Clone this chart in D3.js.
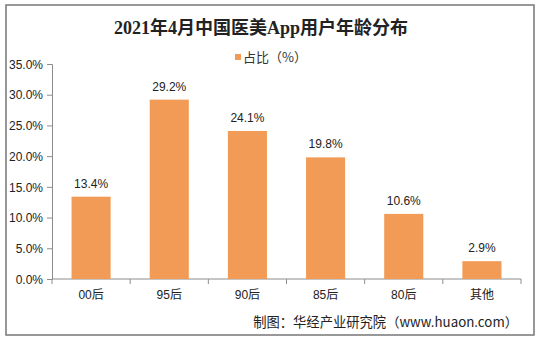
<!DOCTYPE html>
<html>
<head>
<meta charset="utf-8">
<script src="https://cdn.jsdelivr.net/npm/d3@7/dist/d3.min.js"></script>
<style>
  html, body { margin: 0; padding: 0; background: #fff; }
  svg { display: block; }
  text { font-family: "Liberation Sans", Arial, "Noto Sans CJK SC", sans-serif; fill: #222; }
</style>
</head>
<body>
<svg id="chart" width="540" height="342"></svg>
<script>
// Age distribution of users of medical-aesthetics apps, April 2021
const categories = ["00后", "95后", "90后", "85后", "80后", "其他"];
const shares = [13.4, 29.2, 24.1, 19.8, 10.6, 2.9];
const yTicks = [0, 5, 10, 15, 20, 25, 30, 35];

const titleText = "2021年4月中国医美App用户年龄分布";
const legendText = "占比（%）";
const sourceText = "制图：华经产业研究院（www.huaon.com）";

const svg = d3.select("#chart");
const barColor = "#F29B56";

// frame
svg.append("rect")
  .attr("x", 6).attr("y", 5).attr("width", 528).attr("height", 330)
  .attr("fill", "#fff").attr("stroke", "#7f7f7f").attr("stroke-width", 1.6);

const plot = { left: 52, right: 521, top: 64, bottom: 279 };

const x = d3.scaleBand().domain(categories)
  .range([plot.left, plot.right]).paddingInner(0.5).paddingOuter(0.25);
const y = d3.scaleLinear().domain([0, 35]).range([plot.bottom, plot.top]);

// title
svg.append("text")
  .attr("x", 261).attr("y", 34).attr("text-anchor", "middle")
  .style("font-family", '"Liberation Serif", "Noto Sans CJK SC", serif')
  .style("font-weight", "bold").style("font-size", "18px")
  .text(titleText);

// legend
svg.append("rect").attr("x", 235).attr("y", 54).attr("width", 6).attr("height", 6).attr("fill", barColor);
svg.append("text").attr("x", 243).attr("y", 62)
  .style("font-size", "13px").style("font-family", '"Noto Sans CJK SC", sans-serif')
  .style("fill", "#333")
  .text(legendText);

// y axis
const yAxis = d3.axisLeft(y).tickValues(yTicks).tickSize(5)
  .tickFormat(d => d.toFixed(1) + "%");
const gy = svg.append("g").attr("transform", `translate(${plot.left},0)`).call(yAxis);
gy.select(".domain").attr("stroke", "#8c8c8c");
gy.selectAll(".tick line").attr("stroke", "#8c8c8c");
gy.selectAll(".tick text").attr("x", -9).attr("dy", "0.35em")
  .style("font-size", "12px").style("fill", "#222")
  .style("font-family", '"Liberation Sans", Arial, sans-serif');

// x axis with ticks at category boundaries
const gx = svg.append("g").attr("transform", `translate(0,${plot.bottom})`);
gx.append("line").attr("x1", plot.left).attr("x2", plot.right)
  .attr("stroke", "#8c8c8c");
const bounds = d3.range(categories.length + 1).map(i => plot.left + i * (plot.right - plot.left) / categories.length);
gx.selectAll("line.tk").data(bounds).join("line").attr("class", "tk")
  .attr("x1", d => d).attr("x2", d => d).attr("y1", 0).attr("y2", 5)
  .attr("stroke", "#8c8c8c");
gx.selectAll("text").data(categories).join("text")
  .attr("x", d => x(d) + x.bandwidth() / 2).attr("y", 20)
  .attr("text-anchor", "middle")
  .style("font-size", "12px").style("fill", "#222")
  .style("font-family", '"Liberation Sans", Arial, "Noto Sans CJK SC", sans-serif')
  .text(d => d);

// bars
svg.append("g").selectAll("rect").data(categories).join("rect")
  .attr("x", d => x(d))
  .attr("width", x.bandwidth())
  .attr("y", (d, i) => y(shares[i]))
  .attr("height", (d, i) => y(0) - y(shares[i]))
  .attr("fill", barColor);

// value labels
svg.append("g").selectAll("text").data(categories).join("text")
  .attr("x", d => x(d) + x.bandwidth() / 2)
  .attr("y", (d, i) => y(shares[i]) - 9)
  .attr("text-anchor", "middle")
  .style("font-size", "12px").style("fill", "#222")
  .text((d, i) => shares[i].toFixed(1) + "%");

// source
svg.append("text").attr("x", 518).attr("y", 327).attr("text-anchor", "end")
  .style("font-size", "13.3px").style("fill", "#222")
  .style("font-family", '"Noto Sans CJK SC", sans-serif')
  .text(sourceText);
</script>
</body>
</html>
